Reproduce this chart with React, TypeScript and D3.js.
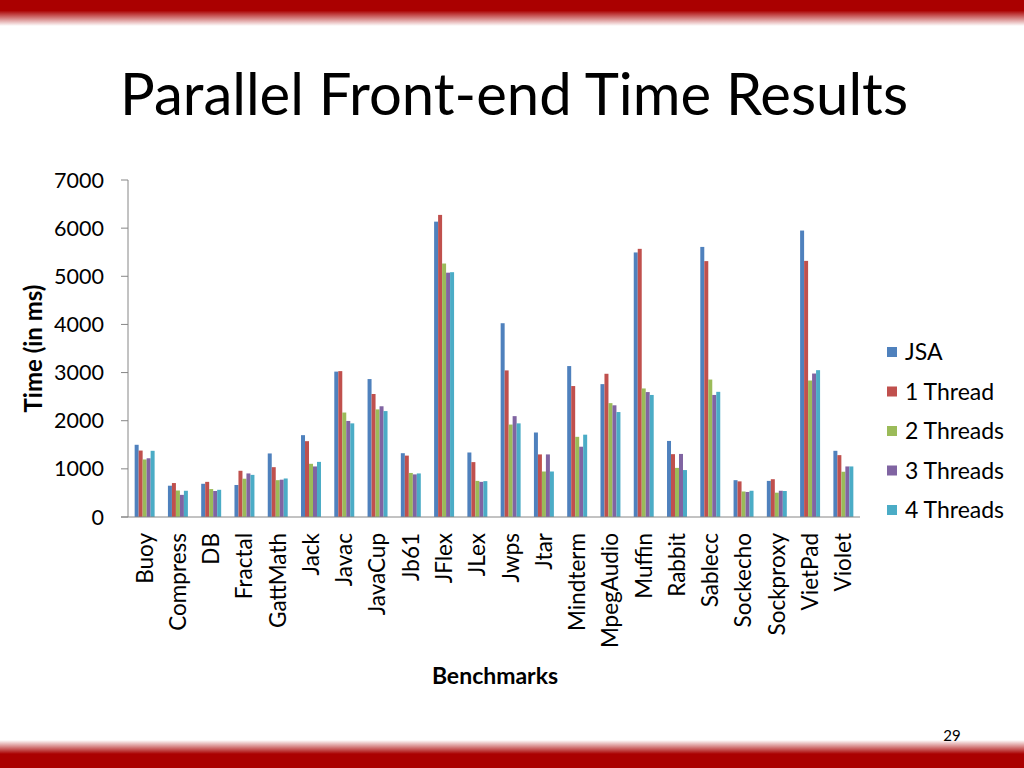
import React from "react"
import * as d3 from "d3"

const categories = [
  "Buoy", "Compress", "DB", "Fractal", "GattMath", "Jack", "Javac", "JavaCup", "Jb61", "JFlex", "JLex",
  "Jwps", "Jtar", "Mindterm", "MpegAudio", "Muffin", "Rabbit", "Sablecc", "Sockecho", "Sockproxy", "VietPad", "Violet",
]

const seriesNames = ["JSA", "1 Thread", "2 Threads", "3 Threads", "4 Threads"]
const seriesColors = ["#4F81BD", "#C0504D", "#9BBB59", "#8064A2", "#4BACC6"]

const jsa = [1500, 650, 690, 665, 1320, 1700, 3020, 2865, 1325, 6135, 1340, 4025, 1755, 3135, 2760, 5495, 1580, 5610, 765, 750, 5950, 1375]
const thread1 = [1380, 705, 730, 960, 1035, 1575, 3030, 2555, 1275, 6275, 1140, 3045, 1300, 2720, 2975, 5570, 1305, 5315, 740, 785, 5320, 1285]
const thread2 = [1195, 550, 580, 795, 765, 1105, 2170, 2235, 915, 5265, 750, 1920, 945, 1665, 2365, 2670, 1020, 2855, 530, 505, 2835, 940]
const thread3 = [1220, 460, 540, 905, 775, 1050, 1995, 2300, 885, 5075, 730, 2095, 1300, 1460, 2320, 2595, 1310, 2535, 520, 545, 2980, 1050]
const thread4 = [1375, 545, 565, 875, 800, 1145, 1945, 2200, 905, 5085, 745, 1945, 945, 1710, 2180, 2535, 975, 2600, 545, 540, 3050, 1050]

const series = [jsa, thread1, thread2, thread3, thread4]
const yTicks = [0, 1000, 2000, 3000, 4000, 5000, 6000, 7000]

const FONT = "Lato, 'Open Sans', sans-serif"

export default function App() {
  const x = d3.scaleBand<string>().domain(categories).range([128, 860]).paddingInner(0.4).paddingOuter(0.2)
  const inner = d3.scaleBand<number>().domain(d3.range(series.length)).range([0, x.bandwidth()])
  const y = d3.scaleLinear().domain([0, 7000]).range([517, 180])

  return (
    <svg width={1024} height={768} style={{ position: "absolute", left: 0, top: 0, background: "#fff" }}>
      <defs>
        <linearGradient id="topBand" x1="0" y1="0" x2="0" y2="1">
          <stop offset="0" stopColor="#AA0000" />
          <stop offset="0.4" stopColor="#AA0000" />
          <stop offset="1" stopColor="#AA0000" stopOpacity="0" />
        </linearGradient>
        <linearGradient id="bottomBand" x1="0" y1="0" x2="0" y2="1">
          <stop offset="0" stopColor="#AA0000" stopOpacity="0" />
          <stop offset="0.5" stopColor="#AA0000" />
          <stop offset="1" stopColor="#AA0000" />
        </linearGradient>
      </defs>
      <rect x={0} y={0} width={1024} height={26} fill="url(#topBand)" />
      <rect x={0} y={740} width={1024} height={28} fill="url(#bottomBand)" />

      <text x={120} y={115} fontFamily={FONT} fontSize={58} fill="#000">
        Parallel Front-end Time Results
      </text>

      {/* bars */}
      {categories.map((c, i) => (
        <g key={c} transform={`translate(${x(c)},0)`}>
          {series.map((s, k) => (
            <rect
              key={k}
              x={inner(k)}
              y={y(s[i])}
              width={inner.bandwidth()}
              height={y(0) - y(s[i])}
              fill={seriesColors[k]}
            />
          ))}
        </g>
      ))}

      {/* y axis */}
      <line x1={128} x2={128} y1={y(7000)} y2={y(0)} stroke="#868686" strokeWidth={1} />
      {yTicks.map((t) => (
        <g key={t}>
          <line x1={121} x2={128} y1={y(t)} y2={y(t)} stroke="#868686" />
          <text x={104} y={y(t)} dy="0.35em" textAnchor="end" fontFamily={FONT} fontSize={21.5} fill="#000">
            {t}
          </text>
        </g>
      ))}
      <text
        transform={`translate(42,${(y(0) + y(7000)) / 2}) rotate(-90)`}
        textAnchor="middle"
        fontFamily={FONT}
        fontSize={24}
        fontWeight="bold"
        fill="#000"
      >
        Time (in ms)
      </text>

      {/* x axis */}
      <line x1={121} x2={860} y1={y(0)} y2={y(0)} stroke="#868686" strokeWidth={1} />
      {categories.map((c) => (
        <text
          key={c}
          transform={`translate(${(x(c) ?? 0) + x.bandwidth() / 2},533) rotate(-90)`}
          dy="0.35em"
          textAnchor="end"
          fontFamily={FONT}
          fontSize={22.5}
          fill="#000"
        >
          {c}
        </text>
      ))}
      <text x={495} y={684} textAnchor="middle" fontFamily={FONT} fontSize={23} fontWeight="bold" fill="#000">
        Benchmarks
      </text>

      {/* legend */}
      {seriesNames.map((n, k) => (
        <g key={n} transform={`translate(887,${352 + k * 39.5})`}>
          <rect x={0} y={-5} width={10} height={10} fill={seriesColors[k]} />
          <text x={18} y={0} dy="0.35em" fontFamily={FONT} fontSize={23} fill="#000">
            {n}
          </text>
        </g>
      ))}

      <text x={952} y={741} textAnchor="middle" fontFamily={FONT} fontSize={15} fill="#000">
        29
      </text>
    </svg>
  )
}
